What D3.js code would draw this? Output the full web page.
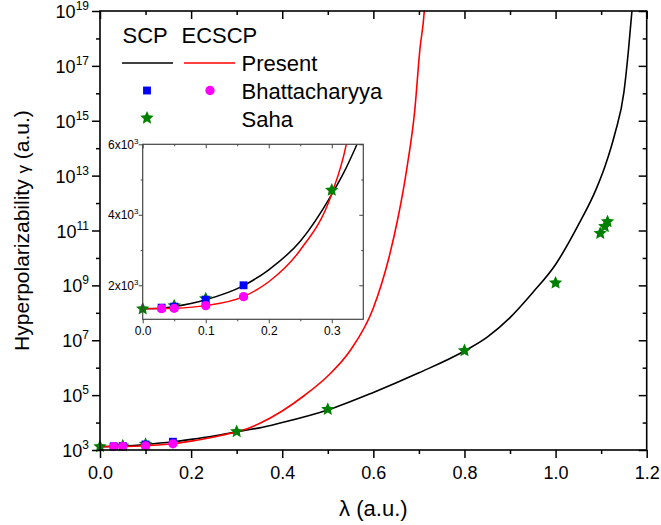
<!DOCTYPE html>
<html><head><meta charset="utf-8">
<script src="https://cdn.jsdelivr.net/npm/d3@7"></script>
<style>body{margin:0;background:#fff}text{font-family:"Liberation Sans",Arial,sans-serif;fill:#000}</style>
</head><body><svg id="c" width="661" height="525"></svg>
<script>
// ---- data ----
const lambdaSCP = [0, 0.03, 0.05, 0.1, 0.16, 0.2, 0.25, 0.3, 0.32, 0.34, 0.35, 0.4, 0.5, 0.6, 0.7, 0.8, 0.85, 0.9, 0.95, 1.0, 1.05, 1.09, 1.11, 1.13, 1.15, 1.16, 1.167, 1.172];
const gammaSCP  = [1333, 1345, 1395, 1590, 1990, 2440, 3250, 4580, 5230, 6000, 6400, 1.0e4, 2.87e4, 1.25e5, 6.5e5, 4.06e6, 1.3e7, 6.7e7, 5.5e8, 5.8e9, 1.6e11, 3.5e12, 2.6e13, 3.3e14, 1.1e16, 3.8e17, 7.8e18, 5.4e19];
const lambdaECSCP = [0, 0.03, 0.05, 0.1, 0.16, 0.2, 0.25, 0.3, 0.323, 0.35, 0.4, 0.45, 0.5, 0.55, 0.6, 0.634, 0.654, 0.674, 0.691, 0.702, 0.7125, 0.717];
const gammaECSCP  = [1333, 1338, 1348, 1423, 1680, 2100, 3000, 4600, 6000, 9250, 2.64e4, 1.01e5, 4.98e5, 4.4e6, 1.5e8, 9.9e9, 2.85e11, 2.06e13, 2.5e15, 3.8e17, 1.5e19, 4.7e20];
const bhatLambda = [0.03, 0.05, 0.1, 0.16];
const bhatSCP    = [1366, 1395, 1593, 2000];
const bhatECSCP  = [1338, 1347, 1423, 1678];
const sahaLambda = [0, 0.05, 0.1, 0.3, 0.5, 0.8, 1.0, 1.098, 1.108, 1.114];
const sahaGamma  = [1333, 1420, 1620, 4700, 3.04e4, 4.2e6, 1.23e9, 7.9e10, 1.4e11, 2.1e11];
const xTicksMain = [0, 0.2, 0.4, 0.6, 0.8, 1.0, 1.2];
const yExpMain = [3, 5, 7, 9, 11, 13, 15, 17, 19];
const xTicksInset = [0, 0.1, 0.2, 0.3];
const yTicksInset = [2000, 4000, 6000];
const legendHeader = ["SCP", "ECSCP"];
const legendLabels = ["Present", "Bhattacharyya", "Saha"];

const svg = d3.select("#c");
const W = {l:100, r:646.7, t:11, b:450};
const x = d3.scaleLinear().domain([0, 1.2]).range([W.l, W.r]);
const y = d3.scaleLog().domain([1e3, 1e19]).range([W.b, W.t]);

svg.append("clipPath").attr("id","mainClip").append("rect")
  .attr("x",W.l).attr("y",W.t).attr("width",W.r-W.l).attr("height",W.b-W.t);

const zip = (a,b) => a.map((v,i)=>[v,b[i]]);
const scp = zip(lambdaSCP, gammaSCP), ec = zip(lambdaECSCP, gammaECSCP);

function lineGen(xs, ys){ return d3.line().x(d=>xs(d[0])).y(d=>ys(d[1])).curve(d3.curveMonotoneX); }

const gMain = svg.append("g").attr("clip-path","url(#mainClip)");
gMain.append("path").datum(scp).attr("d", lineGen(x,y)).attr("fill","none").attr("stroke","#000").attr("stroke-width",1.6);
gMain.append("path").datum(ec).attr("d", lineGen(x,y)).attr("fill","none").attr("stroke","#ff0000").attr("stroke-width",1.6);

const fatStar = { draw(ctx, size){
  const R = Math.sqrt(size)*0.8, r = R*0.47;
  for (let i=0;i<10;i++){
    const a = -Math.PI/2 + i*Math.PI/5, rr = i%2 ? r : R;
    const px = rr*Math.cos(a), py = rr*Math.sin(a);
    if (i===0) ctx.moveTo(px,py); else ctx.lineTo(px,py);
  }
  ctx.closePath();
}};
const starSym = d3.symbol().type(fatStar).size(77);
const sqSym = d3.symbol().type(d3.symbolSquare).size(62);
const ciSym = d3.symbol().type(d3.symbolCircle).size(68);

function markers(g, xs, ys){
  g.selectAll(null).data(zip(sahaLambda, sahaGamma)).join("path")
    .attr("d", starSym).attr("transform", d=>`translate(${xs(d[0])},${ys(d[1])})`).attr("fill","#008000");
  g.selectAll(null).data(zip(bhatLambda, bhatSCP)).join("path")
    .attr("d", sqSym).attr("transform", d=>`translate(${xs(d[0])},${ys(d[1])})`).attr("fill","#0000ff");
  g.selectAll(null).data(zip(bhatLambda, bhatECSCP)).join("path")
    .attr("d", ciSym).attr("transform", d=>`translate(${xs(d[0])},${ys(d[1])})`).attr("fill","#ff00ff");
}
markers(svg.append("g"), x, y);

// ---- main axes ----
function styleAxis(g, sw){ g.select(".domain").remove(); g.selectAll("line").attr("stroke","#000").attr("stroke-width",sw); }
const minorX = d3.range(0.1, 1.2, 0.2);
svg.append("g").attr("transform",`translate(0,${W.b})`)
  .call(d3.axisBottom(x).tickValues(xTicksMain).tickSize(8).tickPadding(8).tickFormat(d3.format(".1f")))
  .call(g=>{styleAxis(g,1.5); g.selectAll("text").attr("font-size",18).attr("font-family","Liberation Sans, Arial");});
svg.append("g").attr("transform",`translate(0,${W.b})`)
  .call(d3.axisBottom(x).tickValues(minorX).tickSize(4).tickFormat(""))
  .call(g=>styleAxis(g,1.5));
svg.append("g").attr("transform",`translate(0,${W.t})`)
  .call(d3.axisTop(x).tickValues(xTicksMain).tickSize(-8).tickFormat(""))
  .call(g=>styleAxis(g,1.5));
svg.append("g").attr("transform",`translate(0,${W.t})`)
  .call(d3.axisTop(x).tickValues(minorX).tickSize(-4).tickFormat(""))
  .call(g=>styleAxis(g,1.5));

const yMajor = yExpMain.map(e=>Math.pow(10,e));
const yMinor = d3.range(4, 19, 2).map(e=>Math.pow(10,e));
svg.append("g").attr("transform",`translate(${W.l},0)`)
  .call(d3.axisLeft(y).tickValues(yMajor).tickSize(8).tickFormat(""))
  .call(g=>styleAxis(g,1.5));
svg.append("g").attr("transform",`translate(${W.l},0)`)
  .call(d3.axisLeft(y).tickValues(yMinor).tickSize(4).tickFormat(""))
  .call(g=>styleAxis(g,1.5));
svg.append("g").attr("transform",`translate(${W.r},0)`)
  .call(d3.axisRight(y).tickValues(yMajor).tickSize(-8).tickFormat(""))
  .call(g=>styleAxis(g,1.5));
svg.append("g").attr("transform",`translate(${W.r},0)`)
  .call(d3.axisRight(y).tickValues(yMinor).tickSize(-4).tickFormat(""))
  .call(g=>styleAxis(g,1.5));

const yl = svg.append("g").selectAll("text").data(yExpMain).join("text")
  .attr("x", 89).attr("y", e=>y(Math.pow(10,e))+7).attr("text-anchor","end").attr("font-size",18);
yl.append("tspan").text("10");
yl.append("tspan").text(e=>e).attr("font-size",12).attr("dy",-8);

svg.append("rect").attr("x",W.l).attr("y",W.t).attr("width",W.r-W.l).attr("height",W.b-W.t)
  .attr("fill","none").attr("stroke","#000").attr("stroke-width",1.6);

// axis titles
svg.append("text").attr("x",(W.l+W.r)/2).attr("y",516).attr("text-anchor","middle").attr("font-size",22)
  .text("λ (a.u.)");
const yt = svg.append("text").attr("transform",`translate(29,${(W.t+W.b)/2}) rotate(-90)`)
  .attr("text-anchor","middle").attr("font-size",21);
yt.append("tspan").text("Hyperpolarizability ");
yt.append("tspan").text("γ").attr("font-size",17);
yt.append("tspan").text(" (a.u.)");

// ---- legend ----
const lg = svg.append("g");
lg.append("text").attr("x",122.5).attr("y",43).attr("font-size",22).text(legendHeader[0]);
lg.append("text").attr("x",181.5).attr("y",43).attr("font-size",22).text(legendHeader[1]);
lg.append("line").attr("x1",122).attr("x2",173).attr("y1",63).attr("y2",63).attr("stroke","#000").attr("stroke-width",1.6);
lg.append("line").attr("x1",184).attr("x2",235).attr("y1",63).attr("y2",63).attr("stroke","#ff0000").attr("stroke-width",1.6);
lg.append("text").attr("x",241.5).attr("y",71).attr("font-size",22).text(legendLabels[0]);
lg.append("path").attr("d",sqSym).attr("transform","translate(147,90.5)").attr("fill","#0000ff");
lg.append("path").attr("d",ciSym).attr("transform","translate(210,90.5)").attr("fill","#ff00ff");
lg.append("text").attr("x",241.5).attr("y",99).attr("font-size",22).text(legendLabels[1]);
lg.append("path").attr("d",starSym).attr("transform","translate(147,118)").attr("fill","#008000");
lg.append("text").attr("x",241.5).attr("y",127).attr("font-size",22).text(legendLabels[2]);

// ---- inset ----
const I = {l:142.7, r:363.3, t:144.3, b:319.3};
const xi = d3.scaleLinear().domain([0, 0.35]).range([I.l, I.r]);
const yi = d3.scaleLinear().domain([1035, 6000]).range([I.b, I.t]);
svg.append("rect").attr("x",I.l).attr("y",I.t).attr("width",I.r-I.l).attr("height",I.b-I.t).attr("fill","#fff");
svg.append("clipPath").attr("id","insClip").append("rect")
  .attr("x",I.l).attr("y",I.t).attr("width",I.r-I.l).attr("height",I.b-I.t);
const gi = svg.append("g").attr("clip-path","url(#insClip)");
gi.append("path").datum(scp).attr("d", lineGen(xi,yi)).attr("fill","none").attr("stroke","#000").attr("stroke-width",1.5);
gi.append("path").datum(ec).attr("d", lineGen(xi,yi)).attr("fill","none").attr("stroke","#ff0000").attr("stroke-width",1.5);
markers(svg.append("g"), xi, yi);

const ic = "#444";
function styleI(g){ g.select(".domain").remove(); g.selectAll("line").attr("stroke",ic).attr("stroke-width",1); }
const xiMinor = [0.05, 0.15, 0.25];
svg.append("g").attr("transform",`translate(0,${I.b})`)
  .call(d3.axisBottom(xi).tickValues(xTicksInset).tickSize(4).tickPadding(3).tickFormat(d3.format(".1f")))
  .call(g=>{styleI(g); g.selectAll("text").attr("font-size",12).attr("fill","#222");});
svg.append("g").attr("transform",`translate(0,${I.b})`).call(d3.axisBottom(xi).tickValues(xiMinor).tickSize(2).tickFormat("")).call(styleI);
svg.append("g").attr("transform",`translate(0,${I.t})`).call(d3.axisTop(xi).tickValues(xTicksInset).tickSize(-4).tickFormat("")).call(styleI);
svg.append("g").attr("transform",`translate(0,${I.t})`).call(d3.axisTop(xi).tickValues(xiMinor).tickSize(-2).tickFormat("")).call(styleI);
const yiMinor = [3000, 5000];
svg.append("g").attr("transform",`translate(${I.l},0)`).call(d3.axisLeft(yi).tickValues(yTicksInset).tickSize(4).tickFormat("")).call(styleI);
svg.append("g").attr("transform",`translate(${I.l},0)`).call(d3.axisLeft(yi).tickValues(yiMinor).tickSize(2).tickFormat("")).call(styleI);
svg.append("g").attr("transform",`translate(${I.r},0)`).call(d3.axisRight(yi).tickValues(yTicksInset).tickSize(-4).tickFormat("")).call(styleI);
svg.append("g").attr("transform",`translate(${I.r},0)`).call(d3.axisRight(yi).tickValues(yiMinor).tickSize(-2).tickFormat("")).call(styleI);
const yil = svg.append("g").selectAll("text").data(yTicksInset).join("text")
  .attr("x", 138.5).attr("y", d=>yi(d)+4.5).attr("text-anchor","end").attr("font-size",12).attr("fill","#222");
yil.append("tspan").text(d=>(d/1000)+"x10");
yil.append("tspan").text("3").attr("font-size",8).attr("dy",-5);
svg.append("rect").attr("x",I.l).attr("y",I.t).attr("width",I.r-I.l).attr("height",I.b-I.t)
  .attr("fill","none").attr("stroke",ic).attr("stroke-width",1.2);
</script></body></html>
